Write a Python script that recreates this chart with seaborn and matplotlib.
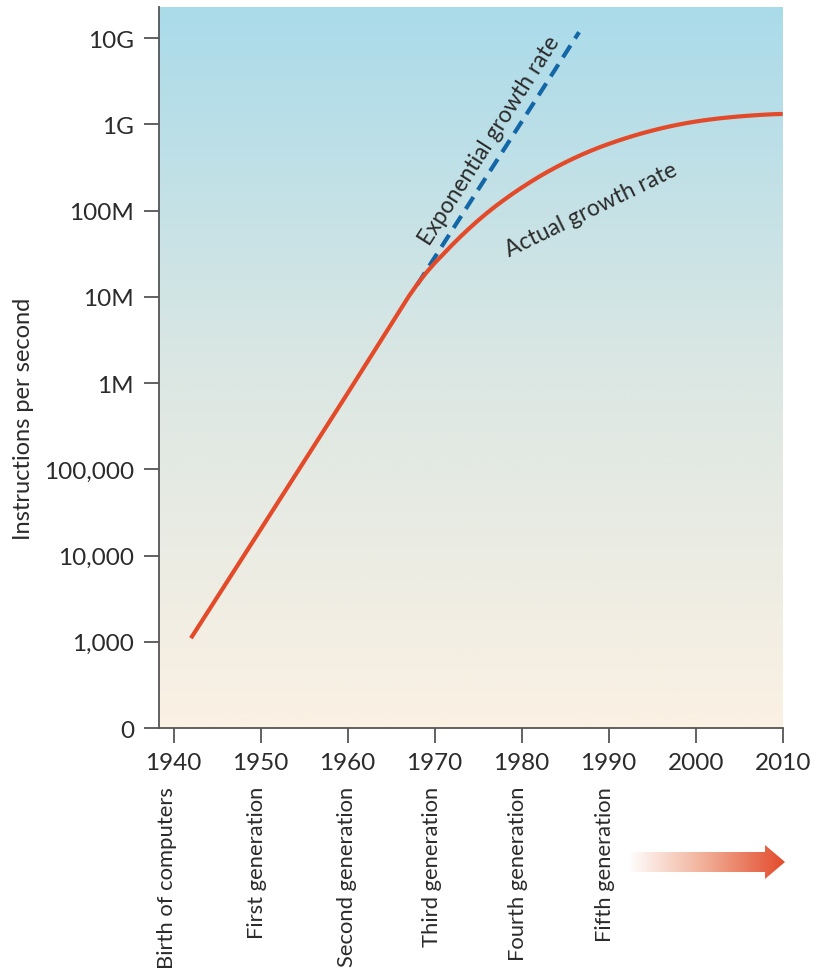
import numpy as np
import pandas as pd
import matplotlib
matplotlib.use("Agg")
import matplotlib.pyplot as plt
from matplotlib.colors import LinearSegmentedColormap
from matplotlib.patches import Polygon
import seaborn as sns

# Actual growth of processing speed (instructions per second)
actual_years = [1942, 1950, 1960, 1965, 1966, 1967, 1968, 1969, 1970, 1971,
                1972, 1973, 1974, 1975, 1976, 1977, 1978, 1979, 1980, 1981,
                1982, 1983, 1984, 1985, 1986, 1987, 1988, 1989, 1990, 1991,
                1992, 1993, 1994, 1995, 1996, 1997, 1998, 1999, 2000, 2001,
                2002, 2003, 2004, 2005, 2006, 2007, 2008, 2009, 2010]
actual_ips = [1.10e3, 2.0e4, 7.6e5, 4.79e6, 6.92e6, 1.0e7, 1.396e7, 1.884e7, 2.455e7, 3.126e7,
              3.981e7, 5.012e7, 6.237e7, 7.674e7, 9.333e7, 1.122e8, 1.334e8, 1.574e8, 1.841e8, 2.138e8,
              2.466e8, 2.818e8, 3.199e8, 3.606e8, 4.036e8, 4.487e8, 4.955e8, 5.433e8, 5.916e8, 6.412e8,
              6.918e8, 7.430e8, 7.943e8, 8.453e8, 8.954e8, 9.441e8, 9.908e8, 1.035e9, 1.076e9, 1.114e9,
              1.148e9, 1.180e9, 1.208e9, 1.233e9, 1.256e9, 1.276e9, 1.294e9, 1.309e9, 1.318e9]

# Continued exponential trend
exp_years = [1968, 1986.6]
exp_ips = [1.38e7, 1.17e10]

y_tick_values = [1e2, 1e3, 1e4, 1e5, 1e6, 1e7, 1e8, 1e9, 1e10]
y_tick_labels = ["0", "1,000", "10,000", "100,000", "1M", "10M", "100M", "1G", "10G"]
x_ticks = [1940, 1950, 1960, 1970, 1980, 1990, 2000, 2010]

generations = ["Birth of computers", "First generation", "Second generation",
               "Third generation", "Fourth generation", "Fifth generation"]
generation_x = [1939.25, 1949.6, 1959.9, 1969.7, 1979.6, 1989.6]

sns.set_theme(style="white")
plt.rcParams["font.family"] = ["Lato", "DejaVu Sans"]

RED = "#e34a2a"
BLUE = "#1467a6"
INK = "#2b2b2b"
SPINE = "#555555"

W, H = 817, 979
fig = plt.figure(figsize=(W / 100, H / 100), dpi=100)
fig.patch.set_facecolor("white")

pos = [159 / W, 250 / H, (782.7 - 159) / W, (979 - 8 - 250) / H]

# Sky-to-sand background panel
bg = fig.add_axes(pos, zorder=0)
bg_cmap = LinearSegmentedColormap.from_list(
    "bg", [(0.0, "#fbf1e3"), (0.5, "#dbe7e3"), (1.0, "#aadbea")])
bg.imshow(np.linspace(0, 1, 256)[::-1, None], cmap=bg_cmap, aspect="auto",
          extent=[0, 1, 0, 1], interpolation="bicubic")
bg.set_axis_off()

ax = fig.add_axes(pos, zorder=1)
ax.set_facecolor("none")

df_actual = pd.DataFrame({"year": actual_years, "ips": actual_ips})
df_exp = pd.DataFrame({"year": exp_years, "ips": exp_ips})

sns.lineplot(data=df_exp, x="year", y="ips", ax=ax, color=BLUE, lw=3.0,
             zorder=3).lines[-1].set_dashes((3.4, 2.0))
sns.lineplot(data=df_actual, x="year", y="ips", ax=ax, color=RED, lw=3.0,
             zorder=4, solid_capstyle="butt", solid_joinstyle="round")

ax.set_yscale("log")
ax.set_xlim(1938.33, 2010)
ax.set_ylim(1e2, 10 ** 10.36)
ax.set_yticks(y_tick_values)
ax.set_yticklabels(y_tick_labels)
ax.yaxis.set_minor_locator(matplotlib.ticker.NullLocator())
ax.set_xticks(x_ticks)
ax.set_xticklabels([str(x) for x in x_ticks])

for side in ["top", "right"]:
    ax.spines[side].set_visible(False)
for side in ["left", "bottom"]:
    ax.spines[side].set_color(SPINE)
    ax.spines[side].set_linewidth(1.3)

ax.tick_params(axis="y", which="major", left=True, length=11, width=1.3,
               color=SPINE, pad=7, labelsize=17.5, labelcolor=INK)
ax.tick_params(axis="x", which="major", bottom=True, length=11, width=1.3,
               color=SPINE, pad=6, labelsize=17.5, labelcolor=INK)

ax.set_xlabel("")
ax.set_ylabel("Instructions per second", fontsize=17, color=INK)
ax.yaxis.set_label_coords(-0.2, 0.43)

ax.text(1976.3, 10 ** 8.82, "Exponential growth rate", rotation=57.5,
        ha="center", va="center", fontsize=16.5, color=INK, zorder=5)
ax.text(1988.0, 10 ** 8.02, "Actual growth rate", rotation=26,
        ha="center", va="center", fontsize=16.5, color=INK, zorder=5)

trans = matplotlib.transforms.blended_transform_factory(ax.transData, ax.transAxes)
for gx, name in zip(generation_x, generations):
    ax.text(gx, -0.0804, name, rotation=90, ha="center", va="top",
            fontsize=15.8, color=INK, transform=trans, clip_on=False)

# Fading arrow pointing to the future
ax_arrow = fig.add_axes([628 / W, (979 - 882) / H, 158 / W, 38 / H], zorder=2)
ax_arrow.set_xlim(0, 158)
ax_arrow.set_ylim(0, 38)
ax_arrow.set_axis_off()
arrow_cmap = LinearSegmentedColormap.from_list(
    "arrow", [(0.0, "#ffffff"), (0.45, "#f2b59f"), (1.0, RED)])
grad = ax_arrow.imshow(np.linspace(0, 1, 256)[None, :], cmap=arrow_cmap,
                       aspect="auto", extent=[0, 158, 0, 38])
shape = Polygon([(2, 9), (137, 9), (137, 2), (157, 19), (137, 36), (137, 29), (2, 29)],
                closed=True, transform=ax_arrow.transData, facecolor="none",
                edgecolor="none")
ax_arrow.add_patch(shape)
grad.set_clip_path(shape)

fig.savefig("out.png", dpi=100)
